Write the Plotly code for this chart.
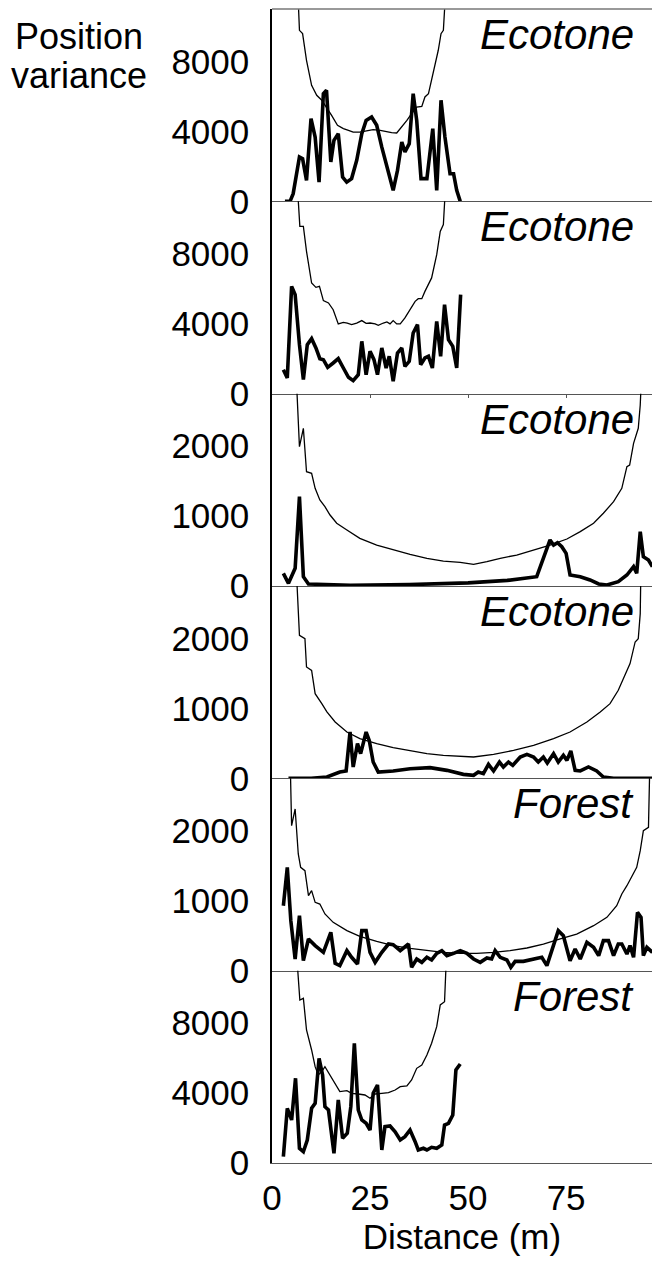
import plotly.graph_objects as go
from plotly.subplots import make_subplots

# ---- panel 1 (Ecotone) ----
p1_x = [3.3, 4.6, 5.4, 7.0, 7.8, 8.8, 9.95, 11.0, 12.0, 13.1, 13.9, 15.0, 15.8, 16.9, 18.0,
        19.05, 20.3, 21.6, 22.9, 24.0, 25.4, 26.7, 28.0, 29.3, 30.9, 32.0, 33.1, 33.9, 35.0,
        36.0, 36.9, 38.0, 39.5, 41.0, 42.0, 43.1, 44.1, 45.4, 46.3, 47.1, 48.0]
p1_var = [0, 0, 440, 2534, 2440, 1200, 4730, 3680, 1100, 6160, 6350, 2250, 3490, 3870, 1390,
          1100, 1300, 2345, 3870, 4630, 4820, 4350, 3100, 1960, 630, 1770, 3390, 2820, 3300,
          6160, 4630, 1300, 1300, 4160, 630, 5780, 3680, 1580, 1580, 630, 0]
p1_tx = [6.5, 7.0, 7.8, 8.8, 10.1, 11.4, 12.7, 13.9, 15.2, 16.7, 18.2, 19.5, 20.7, 22.4, 24.2,
         25.8, 27.6, 29.3, 30.5, 31.8, 33.1, 34.4, 35.6, 36.9, 38.2, 39.0, 39.9, 41.1, 42.4,
         43.1, 43.7, 44.4]
p1_thr = [12500, 9780, 9590, 8065, 6635, 6063, 5780, 5390, 4920, 4350, 4160, 4060, 3960, 3960,
          4020, 4100, 4060, 3960, 3930, 3910, 4250, 4630, 5020, 5390, 5430, 5970, 6160, 7300,
          8640, 9590, 9780, 12500]

# ---- panel 2 (Ecotone) ----
p2_x = [2.9, 3.9, 5.0, 5.9, 7.0, 8.0, 9.0, 10.1, 11.2, 12.2, 13.1, 14.2, 15.6, 16.9, 18.2,
        19.5, 20.7, 22.0, 22.9, 24.0, 25.0, 26.0, 26.9, 28.0, 29.1, 29.9, 30.9, 32.0, 33.1,
        33.9, 35.0, 36.0, 37.1, 37.9, 39.0, 39.9, 40.9, 42.0, 43.0, 44.0, 45.0, 46.1, 47.1, 48.1]
p2_var = [1373, 898, 6138, 5663, 2803, 801, 2803, 3146, 2612, 2002, 1945, 1506, 1754, 2002,
          1468, 935, 744, 1087, 2993, 1087, 2422, 1945, 1087, 2612, 1468, 2136, 706, 2327, 2612,
          1563, 1850, 3470, 3947, 1659, 2040, 2136, 1468, 4136, 2136, 5090, 3089, 2708, 1468, 5663]
p2_tx = [6.3, 7.1, 8.0, 8.8, 10.1, 11.2, 12.1, 13.1, 14.4, 15.6, 16.9, 18.2, 19.2, 20.3, 21.6,
         22.9, 24.0, 25.0, 26.3, 27.1, 28.4, 29.3, 30.1, 30.9, 31.8, 32.7, 33.9, 35.2, 36.5,
         37.3, 38.2, 39.0, 39.9, 40.7, 42.0, 42.9, 43.7, 44.4]
p2_thr = [12500, 9570, 9570, 8140, 6330, 6080, 6140, 5320, 5190, 4800, 3990, 4080, 4040, 3950,
          4040, 4180, 4020, 4040, 3990, 3910, 4040, 4100, 3990, 4180, 3990, 3990, 4330, 4800,
          5280, 5430, 5430, 5850, 6230, 6620, 7950, 9280, 9670, 12500]

# ---- panel 3 (Ecotone) ----
p3_x = [2.9, 4.2, 5.9, 7.0, 8.0, 9.3, 20.0, 35.0, 50.0, 60.0, 67.5, 69.2, 70.1, 70.9, 71.8,
        72.8, 73.9, 75.0, 76.0, 78.6, 81.1, 83.3, 85.4, 88.3, 90.5, 92.2, 93.0, 93.9, 94.7,
        96.0, 97.0]
p3_var = [181, 38, 253, 1277, 133, 29, 10, 20, 45, 80, 133, 396, 515, 658, 586,
          620, 562, 467, 157, 133, 86, 29, 14, 62, 157, 276, 181, 777, 419,
          372, 276]
p3_tx = [6.1, 7.0, 8.0, 8.8, 10.1, 11.0, 12.2, 13.5, 14.8, 16.5, 19.1, 22.4, 26.7, 30.9, 35.2,
         39.5, 43.7, 48.0, 51.4, 54.8, 58.2, 62.4, 66.7, 70.9, 75.2, 78.6, 82.0, 84.5, 87.1,
         89.2, 90.5, 91.2, 92.2, 93.4, 93.9, 94.3]
p3_thr = [3100, 1992, 2255, 1634, 1611, 1397, 1230, 1134, 1015, 897, 801, 682, 586, 515, 453,
          396, 357, 339, 310, 348, 396, 443, 515, 586, 672, 777, 897, 1040, 1206,
          1397, 1706, 1730, 2040, 2255, 2588, 3100]

# ---- panel 4 (Ecotone) ----
p4_x = [4.2, 10.0, 14.0, 17.3, 18.9, 19.9, 20.7, 21.8, 22.6, 24.0, 24.8, 25.8, 27.1, 30.9,
        35.2, 40.3, 44.6, 48.8, 51.4, 52.6, 53.9, 55.2, 56.5, 58.0, 59.0, 60.3, 61.4, 63.3,
        65.0, 66.7, 67.9, 69.2, 70.2, 71.8, 73.0, 74.3, 75.2, 76.2, 77.3, 78.6, 80.7, 82.8,
        84.5, 87.1, 97.0]
p4_var = [0, 0, 19, 90, 105, 662, 162, 496, 353, 662, 543, 233, 90, 105,
          138, 153, 114, 57, 43, 90, 67, 200, 105, 233, 162, 233, 186, 305,
          343, 305, 233, 305, 219, 353, 233, 329, 257, 391, 114, 105, 162, 105,
          19, 0, 0]
p4_tx = [6.1, 7.0, 8.4, 8.8, 10.1, 11.0, 12.7, 14.0, 16.1, 19.1, 22.4, 26.7, 30.9, 35.2, 39.5,
         43.7, 48.0, 51.4, 56.5, 61.6, 66.7, 71.8, 76.0, 80.3, 83.7, 86.2, 88.3, 90.1, 91.3,
         92.6, 93.4, 93.9, 94.1]
p4_thr = [3100, 2045, 1997, 1592, 1544, 1211, 1068, 949, 805, 662, 568, 496, 439, 391, 353,
          329, 315, 305, 343, 400, 472, 568, 662, 805, 949, 1068, 1259, 1473, 1640,
          1950, 1997, 2355, 3100]

# ---- panel 5 (Forest) ----
p5_x = [2.9, 3.9, 4.8, 5.9, 7.0, 8.0, 9.3, 11.0, 13.1, 15.0, 16.1, 17.3, 19.1, 20.3, 21.8,
        22.9, 24.0, 25.0, 26.3, 28.0, 29.7, 30.9, 32.7, 34.8, 35.6, 36.9, 38.2, 39.5, 40.7,
        42.0, 43.3, 44.6, 46.3, 48.0, 49.7, 51.4, 53.1, 54.8, 56.0, 56.9, 58.2, 59.9, 60.9,
        62.0, 64.1, 65.8, 67.5, 68.8, 70.1, 71.4, 73.0, 74.3, 76.0, 77.3, 78.6, 80.3, 82.0,
        83.3, 84.5, 85.8, 87.1, 88.3, 89.2, 90.5, 91.3, 92.2, 93.2, 94.1, 94.7, 95.6, 97.0]
p5_var = [929, 1477, 715, 167, 786, 143, 453, 358, 262, 548, 105, 72, 286, 191, 95,
          572, 572, 262, 119, 262, 381, 372, 286, 381, 48, 167, 119, 191, 153,
          248, 286, 215, 248, 286, 248, 167, 119, 181, 167, 286, 191, 153, 48,
          133, 133, 153, 167, 191, 72, 286, 572, 500, 143, 310, 167, 405, 334,
          215, 429, 429, 215, 381, 381, 238, 358, 191, 834, 762, 215, 334, 262]
p5_tx = [4.6, 5.0, 5.9, 6.7, 7.3, 8.4, 9.3, 10.1, 11.0, 12.2, 13.5, 15.6, 19.1, 22.4, 26.7,
         30.9, 35.2, 39.5, 43.7, 48.0, 52.2, 56.5, 60.7, 65.0, 69.2, 73.5, 77.7, 82.0, 85.4,
         87.9, 89.2, 90.5, 91.8, 93.0, 93.9, 94.7, 96.0, 96.4]
p5_thr = [3100, 2074, 2312, 1669, 1477, 1430, 1073, 1144, 977, 953, 811, 691, 572, 491, 419,
          358, 319, 286, 262, 248, 248, 262, 286, 324, 381, 453, 524, 643, 762,
          929, 1096, 1215, 1358, 1477, 1716, 2002, 2050, 3100]

# ---- panel 6 (Forest) ----
p6_x = [2.9, 3.9, 5.0, 6.0, 7.0, 8.0, 9.0, 10.1, 11.0, 12.0, 12.9, 13.5, 14.4, 15.8, 16.9,
        18.0, 19.2, 20.1, 21.0, 22.0, 22.9, 24.0, 25.0, 25.8, 26.9, 28.0, 28.8, 30.1, 31.4,
        32.7, 33.9, 35.2, 36.5, 37.3, 38.6, 39.5, 40.7, 42.0, 43.3, 44.0, 45.0, 46.1, 46.9, 48.0]
p6_var = [360, 3129, 2460, 4845, 841, 646, 1316, 3129, 3415, 5989, 5034, 3220, 3032, 555, 3604,
          1413, 1699, 3220, 6847, 3032, 2460, 2271, 1888, 3987, 4462, 744, 2076, 2116, 1790,
          1316, 1504, 1888, 1218, 744, 841, 744, 898, 841, 1030, 2174, 2271, 2746, 5320, 5663]
p6_tx = [6.1, 7.1, 8.0, 8.8, 10.1, 11.0, 11.8, 12.7, 13.5, 14.8, 16.1, 17.3, 19.1, 20.3, 22.0,
         23.7, 25.0, 26.3, 28.0, 29.7, 31.4, 32.7, 34.4, 35.6, 36.9, 38.2, 39.5, 40.7, 42.0,
         42.9, 44.0, 44.6]
p6_thr = [12500, 9324, 9420, 7608, 6464, 5510, 5034, 5224, 5510, 5034, 4557, 4080, 4138, 3985,
          3947, 3890, 3700, 3947, 3985, 4023, 4176, 4366, 4405, 4748, 5415, 5606, 6178, 6847,
          7796, 9038, 9226, 12500]

habitats = ["Ecotone", "Ecotone", "Ecotone", "Ecotone", "Forest", "Forest"]
y_max = [11000, 11000, 2750, 2750, 2750, 11000]
y_ticks = [[0, 4000, 8000], [0, 4000, 8000], [0, 1000, 2000],
           [0, 1000, 2000], [0, 1000, 2000], [0, 4000, 8000]]
x_ticks = [0, 25, 50, 75]
x_range = [0, 96.9]

panels = [
    (p1_x, p1_var, p1_tx, p1_thr),
    (p2_x, p2_var, p2_tx, p2_thr),
    (p3_x, p3_var, p3_tx, p3_thr),
    (p4_x, p4_var, p4_tx, p4_thr),
    (p5_x, p5_var, p5_tx, p5_thr),
    (p6_x, p6_var, p6_tx, p6_thr),
]

W, H = 652, 1268
M_L, M_R, M_T, M_B = 272, 0, 9, 105
FONT = "Liberation Sans, Arial, sans-serif"

fig = make_subplots(rows=6, cols=1, shared_xaxes=True, vertical_spacing=0)

for i, (dx, dv, tx, tv) in enumerate(panels, start=1):
    fig.add_trace(go.Scatter(x=tx, y=tv, mode="lines",
                             line=dict(color="black", width=1.3),
                             showlegend=False, hoverinfo="skip"), row=i, col=1)
    fig.add_trace(go.Scatter(x=dx, y=dv, mode="lines",
                             line=dict(color="black", width=3.6),
                             showlegend=False, hoverinfo="skip"), row=i, col=1)
    fig.update_yaxes(range=[0, y_max[i - 1]], tickvals=y_ticks[i - 1],
                     showgrid=False, zeroline=False, showline=True,
                     linecolor="black", linewidth=1.5, ticks="",
                     ticklabelstandoff=14,
                     tickfont=dict(family=FONT, size=35, color="black"),
                     row=i, col=1)
    fig.update_xaxes(range=x_range, tickvals=x_ticks, showgrid=False,
                     zeroline=False, showline=True, linecolor="#555",
                     linewidth=1.3, showticklabels=(i == 6), ticks="",
                     tickfont=dict(family=FONT, size=35, color="black"),
                     row=i, col=1)

# short tick marks below the second panel
fig.update_xaxes(ticks="outside", ticklen=3, tickcolor="#555",
                 tickvals=[25, 50, 75], row=2, col=1)

fig.update_xaxes(ticklabelstandoff=4, title=dict(text="Distance (m)", standoff=0,
                 font=dict(family=FONT, size=35, color="black")), row=6, col=1)

plot_h = H - M_T - M_B
for i, name in enumerate(habitats):
    top_px = M_T + i * plot_h / 6
    fig.add_annotation(text=f"<i>{name}</i>", xref="paper", yref="paper",
                       x=(636 - M_L) / (W - M_L - M_R), xanchor="right",
                       y=1 - (top_px - M_T) / plot_h, yanchor="top", yshift=0,
                       showarrow=False,
                       font=dict(family=FONT, size=42, color="black"))

# top border of the stack
fig.add_shape(type="line", xref="paper", yref="paper", x0=0, x1=1, y0=1, y1=1,
              line=dict(color="#777", width=1.3))

# y-axis caption, two stacked lines
for word, y_mid in (("Position", 36), ("variance", 76)):
    fig.add_annotation(text=word, xref="paper", yref="paper",
                       x=(79 - M_L) / (W - M_L - M_R), xanchor="center",
                       y=1 - (y_mid - M_T) / plot_h, yanchor="middle",
                       showarrow=False,
                       font=dict(family=FONT, size=36, color="black"))

fig.update_layout(width=W, height=H, margin=dict(l=M_L, r=M_R, t=M_T, b=M_B),
                  paper_bgcolor="white", plot_bgcolor="white",
                  font=dict(family=FONT, color="black"))

fig.write_html("out.html")
